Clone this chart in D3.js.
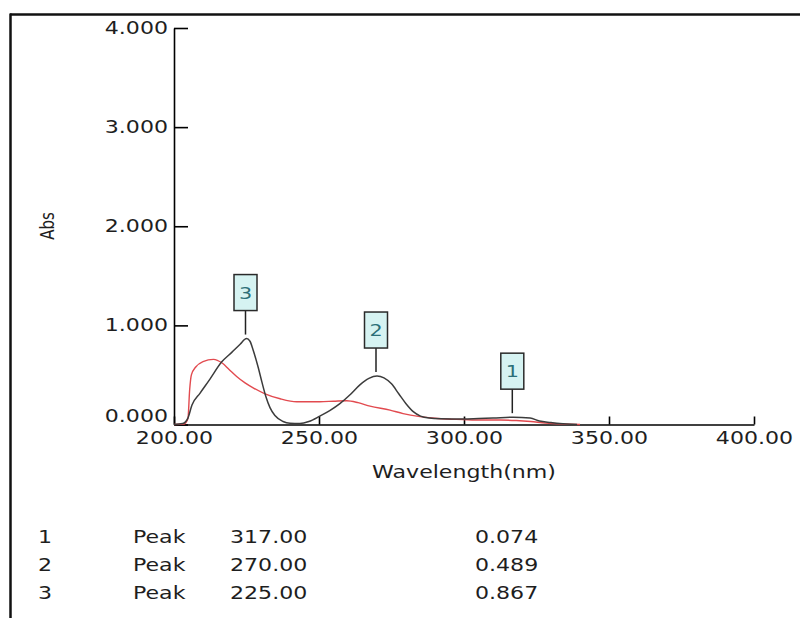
<!DOCTYPE html>
<html>
<head>
<meta charset="utf-8">
<script src="https://cdn.jsdelivr.net/npm/d3@7"></script>
<style>
  html, body { margin: 0; padding: 0; background: #fff; }
  svg { display: block; }
</style>
</head>
<body>
<svg id="chart" width="800" height="618"></svg>
<script>
// ---------- data ----------
const yTicks = [0, 1, 2, 3, 4];
const xTicks = [200, 250, 300, 350, 400];
const xTitle = "Wavelength(nm)";
const yTitle = "Abs";

// black spectrum (sample)
const blackWl  = [200, 203, 204.8, 206.2, 209, 212.4, 216.4, 220, 222.8, 225, 226.2, 227.2, 229, 230.3, 231.7, 233.1, 234.8, 237.6, 240, 243.4, 246.5, 250.3, 253.7, 257.2, 260.7, 264.1, 267.2, 270, 272.4, 275, 277.5, 280, 282.5, 285, 288, 292, 299.7, 305, 310, 317, 322.8, 326, 330, 333, 339];
const blackAbs = [0, 0.01, 0.065, 0.196, 0.317, 0.458, 0.63, 0.73, 0.81, 0.867, 0.84, 0.76, 0.58, 0.43, 0.28, 0.17, 0.09, 0.03, 0.012, 0.01, 0.03, 0.085, 0.14, 0.21, 0.30, 0.40, 0.465, 0.489, 0.47, 0.41, 0.31, 0.21, 0.13, 0.085, 0.065, 0.058, 0.055, 0.06, 0.065, 0.074, 0.065, 0.035, 0.02, 0.01, 0];

// red spectrum (reference)
const redWl  = [200, 203.5, 204.8, 205.4, 206, 207.5, 210, 213.6, 216.6, 219, 221.6, 224.5, 227.3, 231.4, 236.6, 242.3, 250.3, 255, 259.6, 263.5, 267.6, 274.5, 279, 284.8, 291, 299.7, 306, 312.4, 318, 323, 328, 334, 340];
const redAbs = [0, 0.005, 0.06, 0.35, 0.5, 0.58, 0.635, 0.657, 0.62, 0.555, 0.485, 0.42, 0.37, 0.31, 0.26, 0.23, 0.23, 0.235, 0.24, 0.22, 0.185, 0.145, 0.11, 0.08, 0.06, 0.05, 0.045, 0.045, 0.04, 0.03, 0.015, 0.005, 0];

// peak table
const peakNo   = [1, 2, 3];
const peakType = ["Peak", "Peak", "Peak"];
const peakWl   = [317.00, 270.00, 225.00];
const peakAbs  = [0.074, 0.489, 0.867];

// ---------- drawing ----------
const svg = d3.select("#chart");
const FONT = "'DejaVu Sans', Verdana, sans-serif";
const FS = 17;
const SX = 1.3;           // horizontal text stretch seen in the reference
const TXT = "#1e1e1e";

// frame (top and left border)
svg.append("line").attr("x1", 10).attr("x2", 800).attr("y1", 14.5).attr("y2", 14.5)
  .attr("stroke", "#111").attr("stroke-width", 2.5);
svg.append("line").attr("x1", 10.5).attr("x2", 10.5).attr("y1", 13.5).attr("y2", 618)
  .attr("stroke", "#111").attr("stroke-width", 2.5);

const x = d3.scaleLinear().domain([200, 400]).range([174, 754]);
const y = d3.scaleLinear().domain([0, 4]).range([424.5, 28]);

function stretchTicks(g) {
  g.selectAll(".tick text").each(function () {
    const t = d3.select(this);
    const x0 = +t.attr("x") || 0;
    const y0 = +t.attr("y") || 0;
    t.attr("x", x0 / SX).attr("y", y0).attr("transform", `scale(${SX},1)`);
  });
}

// y axis
const gy = svg.append("g").attr("transform", "translate(174,0)")
  .call(d3.axisLeft(y).tickValues(yTicks).tickSizeInner(-14).tickSizeOuter(0)
    .tickPadding(6).tickFormat(d3.format(".3f")));
gy.select(".domain").attr("stroke", "#000").attr("stroke-width", 1.6);
gy.selectAll(".tick line").attr("stroke", "#000").attr("stroke-width", 1.6);
gy.selectAll(".tick text").attr("font-family", FONT).attr("font-size", FS).attr("fill", TXT)
  .attr("dy", d => d === 0 ? "-0.15em" : "0.32em");
stretchTicks(gy);

// x axis
const gx = svg.append("g").attr("transform", `translate(0,${y(0)})`)
  .call(d3.axisBottom(x).tickValues(xTicks).tickSizeInner(-8).tickSizeOuter(0)
    .tickPadding(7).tickFormat(d3.format(".2f")));
gx.select(".domain").attr("stroke", "#000").attr("stroke-width", 1.6);
gx.selectAll(".tick line").attr("stroke", "#000").attr("stroke-width", 1.6);
gx.selectAll(".tick text").attr("font-family", FONT).attr("font-size", FS).attr("fill", TXT);
stretchTicks(gx);

// axis titles
svg.append("text").attr("transform", `translate(464,478) scale(${SX},1)`)
  .attr("text-anchor", "middle").attr("font-family", FONT).attr("font-size", FS)
  .attr("fill", TXT).text(xTitle);
svg.append("text").attr("transform", `translate(54,226) scale(${SX},1) rotate(-90)`)
  .attr("text-anchor", "middle").attr("font-family", FONT).attr("font-size", 15)
  .attr("fill", TXT).text(yTitle);

// spectra
const line = d3.line().x(d => x(d[0])).y(d => y(d[1])).curve(d3.curveMonotoneX);
svg.append("path").datum(redWl.map((w, i) => [w, redAbs[i]]))
  .attr("d", line).attr("fill", "none").attr("stroke", "#e24a4f").attr("stroke-width", 1.4);
svg.append("path").datum(blackWl.map((w, i) => [w, blackAbs[i]]))
  .attr("d", line).attr("fill", "none").attr("stroke", "#3c3c3c").attr("stroke-width", 1.5);

// peak markers
const peaks = peakNo.map((n, i) => ({ n, type: peakType[i], wl: peakWl[i], abs: peakAbs[i] }));
const pm = svg.append("g").selectAll("g").data(peaks).join("g")
  .attr("transform", d => `translate(${x(d.wl) - 1},${y(d.abs)})`);
pm.append("line").attr("x1", 0).attr("x2", 0).attr("y1", -28).attr("y2", -4)
  .attr("stroke", "#222").attr("stroke-width", 1.5);
pm.append("rect").attr("x", -11.5).attr("y", -64).attr("width", 23).attr("height", 36)
  .attr("fill", "#d6f3f2").attr("stroke", "#2a2a2a").attr("stroke-width", 1.5);
pm.append("text").attr("transform", `translate(0,-40) scale(${SX},1)`)
  .attr("text-anchor", "middle").attr("font-family", FONT).attr("font-size", 16)
  .attr("fill", "#2c6f78").text(d => d.n);

// peak table
const rowY = [543, 571, 599];
const tab = svg.append("g").selectAll("g").data(peaks).join("g");
tab.append("text").attr("transform", (d, i) => `translate(45,${rowY[i]}) scale(${SX},1)`)
  .attr("text-anchor", "middle").text(d => d.n);
tab.append("text").attr("transform", (d, i) => `translate(133,${rowY[i]}) scale(${SX},1)`)
  .text(d => d.type);
tab.append("text").attr("transform", (d, i) => `translate(230,${rowY[i]}) scale(${SX},1)`)
  .text(d => d3.format(".2f")(d.wl));
tab.append("text").attr("transform", (d, i) => `translate(475,${rowY[i]}) scale(${SX},1)`)
  .text(d => d3.format(".3f")(d.abs));
tab.selectAll("text").attr("font-family", FONT).attr("font-size", FS).attr("fill", TXT);
</script>
</body>
</html>
